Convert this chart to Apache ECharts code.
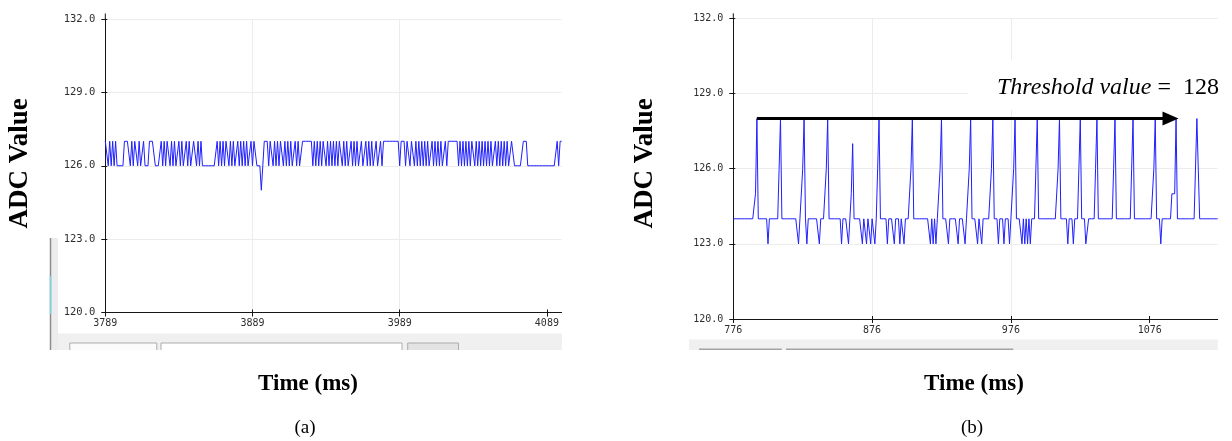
<!DOCTYPE html>
<html><head><meta charset="utf-8">
<script src="https://cdn.jsdelivr.net/npm/echarts@6/dist/echarts.min.js"></script>
<style>html,body{margin:0;padding:0;background:#fff}#c{width:1232px;height:441px}</style>
</head><body><div id="c"></div>
<script>
// ---- data ----
const yTicks = [120, 123, 126, 129, 132];
const xTicksA = [3789, 3889, 3989, 4089];
const xTicksB = [776, 876, 976, 1076];
const startA = 3789, endA = 4099;   // ms, one sample per ms
const startB = 776, endB = 1125;
const adcA = [
127,127,
126,127,126,127,126,127,
126,126,126,126,126,
127,127,127,127,
126,127,126,127,127,
126,127,126,126,127,126,126,126,
127,127,127,127,
126,126,126,126,
127,126,127,126,127,127,126,127,126,127,126,
126,127,126,127,126,126,127,126,127,126,126,127,127,126,127,126,127,126,126,
126,126,126,126,126,126,126,126,
127,126,127,126,127,126,127,127,126,127,126,127,126,126,127,126,127,126,127,126,127,126,126,127,126,127,127,
126,126,126,125,126,
127,127,127,126,127,127,
126,127,126,127,126,127,127,126,127,126,127,126,127,126,126,127,126,127,
126,126,
127,127,127,127,127,127,127,
126,127,126,127,126,127,126,127,127,126,127,126,127,126,127,126,127,126,127,127,126,127,126,127,126,126,127,126,127,126,127,126,126,127,126,126,127,126,127,126,127,
126,126,127,126,126,127,126,
127,127,127,127,127,127,127,127,127,127,127,
126,
127,127,127,126,127,127,126,127,127,126,127,126,127,
126,127,126,127,126,127,126,126,127,126,127,126,127,126,127,126,126,127,126,127,
127,127,127,127,127,127,
126,127,126,127,126,127,126,127,126,127,127,126,127,126,127,126,127,126,127,126,127,126,127,126,126,127,126,127,126,127,126,127,126,127,126,126,127,
127,126,126,126,126,126,126,127,127,127,
126,126,126,126,126,126,126,126,126,126,126,126,126,126,126,126,126,126,126,126,
127,126,127,127
];
const adcB = [
124,124,124,124,124,124,124,124,124,124,
124,124,124,124,124,124,125,128,124,124,
124,124,124,124,124,123,124,124,124,124,
124,124,124,126,128,124,124,124,124,124,
124,124,124,124,124,124,124,123,124,124,
126,128,124,123,124,124,124,124,124,124,
124,124,123,124,124,124,124,126,128,124,
124,124,124,124,124,124,124,124,123,124,
124,124,124,123,123,125,127,124,124,124,
124,124,124,123,124,124,123,124,124,123,
124,124,123,124,126,128,124,124,124,124,
124,123,124,124,124,124,123,124,124,124,
123,124,124,123,124,124,124,124,126,128,
124,124,124,124,124,124,124,124,124,124,
124,124,123,124,123,124,123,124,124,126,
128,124,124,124,124,123,124,124,124,124,
124,124,123,124,124,124,124,123,124,124,
126,128,124,124,124,124,123,124,124,123,
124,124,124,124,124,124,126,128,124,124,
124,123,124,124,124,123,124,124,124,123,
124,124,126,128,124,124,124,124,123,124,
123,124,123,124,123,124,124,124,126,128,
124,124,124,124,124,124,124,124,124,124,
124,124,124,124,126,128,124,124,124,124,
124,123,124,124,124,123,124,124,124,126,
128,124,124,124,123,123,124,124,124,124,
124,126,128,124,124,124,124,124,124,124,
124,124,124,124,126,128,124,124,124,124,
124,124,124,124,124,124,124,126,128,124,
124,124,124,124,124,124,124,124,124,124,
124,124,124,126,128,124,124,124,123,124,
124,124,124,124,124,124,125,125,125,128,
124,124,124,124,124,124,124,124,124,124,
124,124,124,124,128,128,124,124,124,124,
124,124,124,124,124,124,124,124,124,124
];
const threshold = 128;
const arrowFrom = 793, arrowTo = 1091;

// ---- build ----
const dataA = adcA.map((v, i) => [startA + i, v]);
const dataB = adcB.map((v, i) => [startB + i, v]);
const BLUE = '#1f1fff', AX = '#151515', GRID = '#ececec', LBL = '#2e2e2e';
const MONO = 'DejaVu Sans Mono', SERIF = 'Liberation Serif';

function xMain(g, ticks, min, max, fs, margin) {
  return { type: 'value', gridIndex: g, position: 'bottom', min, max, interval: ticks[1] - ticks[0],
    axisLine: { show: true, onZero: false, lineStyle: { color: AX, width: 1 } },
    axisTick: { show: true, length: 4, customValues: ticks, lineStyle: { color: AX } },
    axisLabel: { customValues: ticks, color: LBL, fontFamily: MONO, fontSize: fs, margin, formatter: v => String(v) },
    splitLine: { show: true, showMinLine: false, showMaxLine: false, lineStyle: { color: GRID, width: 1 } } };
}
function xInner(g, ticks, min, max) {
  return { type: 'value', gridIndex: g, position: 'bottom', min, max, interval: ticks[1] - ticks[0],
    axisLine: { show: false }, axisLabel: { show: false }, splitLine: { show: false },
    axisTick: { show: true, inside: true, length: 3, customValues: ticks, lineStyle: { color: AX } } };
}
function yMain(g, fs) {
  return { type: 'value', gridIndex: g, position: 'left', min: yTicks[0], max: yTicks[yTicks.length - 1], interval: yTicks[1] - yTicks[0],
    axisLine: { show: true, onZero: false, lineStyle: { color: AX, width: 1 } },
    axisTick: { show: true, length: 4, lineStyle: { color: AX } },
    axisLabel: { color: LBL, fontFamily: MONO, fontSize: fs, margin: 10, formatter: v => v.toFixed(1) },
    splitLine: { show: true, lineStyle: { color: GRID, width: 1 } } };
}
function yInner(g) {
  return { type: 'value', gridIndex: g, position: 'left', min: yTicks[0], max: yTicks[yTicks.length - 1], interval: yTicks[1] - yTicks[0],
    axisLine: { show: false }, axisLabel: { show: false }, splitLine: { show: false },
    axisTick: { show: true, inside: true, length: 2, lineStyle: { color: AX } } };
}

const gA = { left: 105.3, top: 19, width: 456.3, height: 293.5 };
const gB = { left: 733.3, top: 18.4, width: 484.4, height: 300.6 };

function line(x1, y1, x2, y2, color, w) {
  return { type: 'line', z: 1, silent: true, shape: { x1, y1, x2, y2 }, style: { stroke: color, lineWidth: w || 1 } };
}
function box(x, y, w, yb, fill) {
  return [
    { type: 'rect', z: 1, silent: true, shape: { x, y, width: w, height: yb - y }, style: { fill } },
    { type: 'polyline', z: 1, silent: true, shape: { points: [[x, yb], [x, y], [x + w, y], [x + w, yb]] }, style: { stroke: '#acacac', lineWidth: 1, fill: null } }
  ];
}
function title(text, x, y, size, bold, rot) {
  return { type: 'text', z: 5, silent: true, x, y, rotation: rot || 0,
    style: { text, fill: '#000', font: (bold ? 'bold ' : '') + size + 'px "' + SERIF + '"', textAlign: 'center', textVerticalAlign: 'middle' } };
}

const graphics = [
  // window chrome, panel (a)
  { type: 'rect', z: 1, silent: true, shape: { x: 51, y: 238, width: 7, height: 112 }, style: { fill: '#ececec' } },
  line(50.5, 238, 50.5, 350, '#8c8c8c', 1.5),
  line(50.5, 276, 50.5, 314, '#7fd3e6', 1.5),
  { type: 'rect', z: 1, silent: true, shape: { x: 58, y: 333.5, width: 504, height: 16.5 }, style: { fill: '#f0f0f0' } },
  ...box(69.8, 343, 87, 350, '#fbfbfb'),
  ...box(161, 343, 241, 350, '#ffffff'),
  ...box(407.7, 343, 50.8, 350, '#e3e3e3'),
  // window chrome, panel (b)
  { type: 'rect', z: 1, silent: true, shape: { x: 689, y: 339.5, width: 529, height: 10.5 }, style: { fill: '#f0f0f0' } },
  line(699, 349.3, 781.7, 349.3, '#a3a3a3', 1.5),
  line(786, 349.3, 1013.3, 349.3, '#a3a3a3', 1.5),
  // axis-line overhang above the top tick
  line(105.3, 13.5, 105.3, 19, AX, 1),
  line(733.3, 13.3, 733.3, 18.4, AX, 1),
  // white patch behind annotation
  { type: 'rect', z: 1, silent: true, shape: { x: 968, y: 60, width: 264, height: 50 }, style: { fill: '#ffffff' } },
  { type: 'text', z: 5, silent: true, x: 997, y: 87.5,
    style: { text: '{i|Threshold value}{r| =  ' + threshold + '}', textVerticalAlign: 'middle',
      rich: { i: { fontStyle: 'italic', fontSize: 24, fontFamily: SERIF, fill: '#000' },
              r: { fontSize: 24, fontFamily: SERIF, fill: '#000' } } } },
  // titles
  title('ADC Value', 20, 163.3, 27, true, Math.PI / 2),
  title('ADC Value', 645, 163.3, 27, true, Math.PI / 2),
  title('Time (ms)', 308, 384, 23, true),
  title('Time (ms)', 974, 384, 23, true),
  title('(a)', 305, 428, 19, false),
  title('(b)', 972, 428, 19, false)
];

const chart = echarts.init(document.getElementById('c'), null, { renderer: 'canvas' });
chart.setOption({
  animation: false,
  backgroundColor: '#fff',
  grid: [gA, gB],
  xAxis: [xMain(0, xTicksA, startA, endA, 10, 6), xInner(0, xTicksA, startA, endA),
          xMain(1, xTicksB, startB, endB, 10, 6), xInner(1, xTicksB, startB, endB)],
  yAxis: [yMain(0, 10.5), yInner(0), yMain(1, 10), yInner(1)],
  series: [
    { type: 'line', xAxisIndex: 0, yAxisIndex: 0, data: dataA, showSymbol: false, symbol: 'none',
      lineStyle: { color: BLUE, width: 1 }, z: 2 },
    { type: 'line', xAxisIndex: 2, yAxisIndex: 2, data: dataB, showSymbol: false, symbol: 'none',
      lineStyle: { color: BLUE, width: 1 }, z: 2,
      markLine: { silent: true, symbol: ['none', 'triangle'], symbolSize: [14, 16], z: 4,
        lineStyle: { color: '#000', width: 3, type: 'solid' }, label: { show: false },
        data: [[{ coord: [arrowFrom, threshold] }, { coord: [arrowTo, threshold] }]] } }
  ],
  graphic: graphics
});
</script></body></html>
